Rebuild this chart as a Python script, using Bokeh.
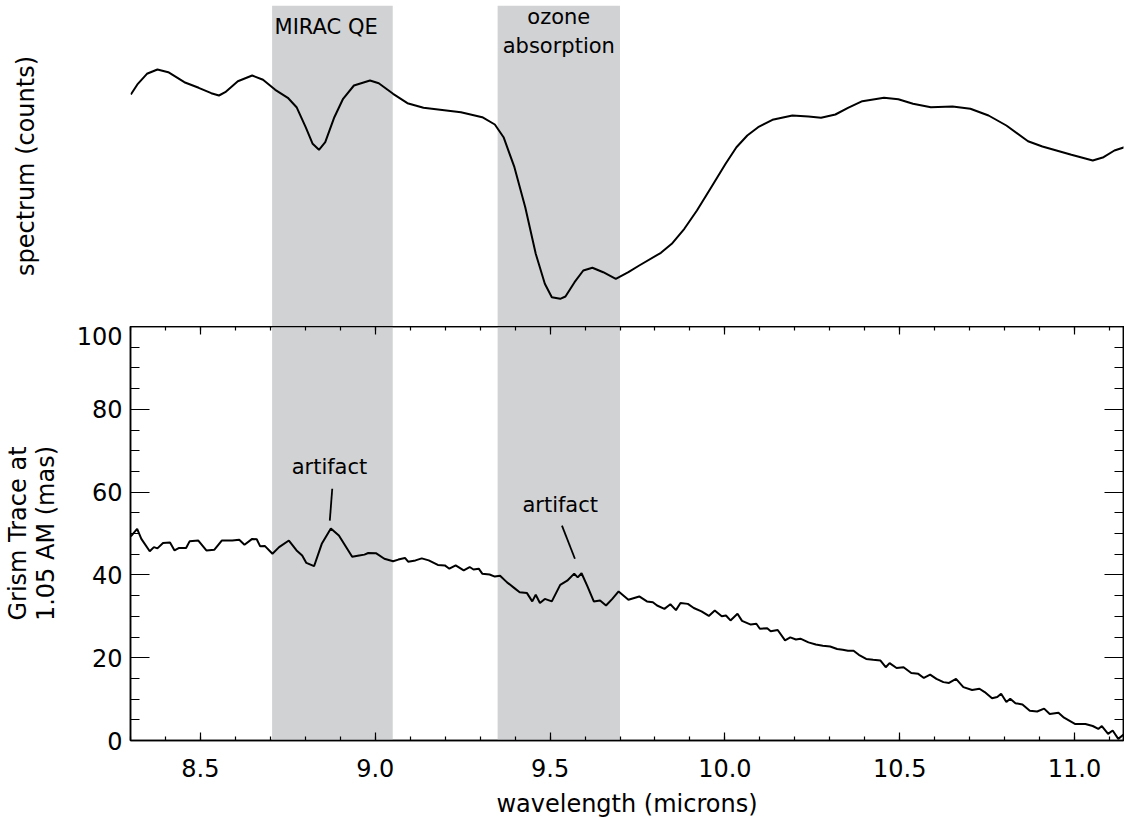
from bokeh.plotting import figure
from bokeh.layouts import column
from bokeh.models import (Range1d, BoxAnnotation, Label, LinearAxis, FixedTicker,
                          NumeralTickFormatter, CustomJSTickFormatter)
from bokeh.embed import file_html
from bokeh.resources import INLINE

# ---------------- data ----------------
spec_wl = [8.301, 8.321, 8.347, 8.377, 8.408, 8.454, 8.495, 8.531, 8.553, 8.571, 8.607, 8.648,
           8.679, 8.714, 8.750, 8.775, 8.801, 8.821, 8.839, 8.857, 8.883, 8.908, 8.939, 8.985,
           9.010, 9.051, 9.092, 9.138, 9.245, 9.306, 9.342, 9.367, 9.398, 9.429, 9.459, 9.485,
           9.505, 9.529, 9.544, 9.570, 9.595, 9.621, 9.652, 9.688, 9.724, 9.755, 9.817, 9.848,
           9.884, 9.920, 9.961, 10.002, 10.033, 10.064, 10.095, 10.136, 10.193, 10.239, 10.275,
           10.316, 10.352, 10.393, 10.455, 10.496, 10.538, 10.589, 10.651, 10.702, 10.754, 10.805,
           10.867, 10.908, 10.991, 11.052, 11.083, 11.114, 11.143]
spec_counts = [2320, 2427, 2527, 2570, 2543, 2443, 2387, 2333, 2310, 2343, 2453, 2510,
               2467, 2367, 2287, 2193, 1993, 1827, 1767, 1843, 2093, 2277, 2410, 2460,
               2433, 2327, 2233, 2187, 2143, 2093, 2020, 1893, 1593, 1193, 727, 427,
               293, 277, 300, 443, 560, 587, 543, 477, 543, 610, 737, 827,
               977, 1160, 1393, 1627, 1793, 1910, 1993, 2067, 2110, 2100, 2087,
               2120, 2187, 2253, 2287, 2273, 2227, 2193, 2200, 2177, 2110, 2010,
               1853, 1800, 1717, 1660, 1693, 1760, 1793]

trace_wl = [8.301, 8.319, 8.331, 8.355, 8.367, 8.377, 8.393, 8.413, 8.426, 8.439, 8.459, 8.469,
            8.494, 8.517, 8.540, 8.561, 8.591, 8.611, 8.626, 8.648, 8.661, 8.671, 8.684, 8.706,
            8.725, 8.753, 8.775, 8.791, 8.803, 8.825, 8.847, 8.873, 8.896, 8.934, 8.954, 8.969,
            8.980, 9.003, 9.026, 9.051, 9.066, 9.085, 9.094, 9.115, 9.133, 9.153, 9.179, 9.199,
            9.212, 9.230, 9.253, 9.270, 9.281, 9.296, 9.306, 9.327, 9.342, 9.357, 9.377, 9.398,
            9.413, 9.434, 9.449, 9.459, 9.471, 9.485, 9.505, 9.529, 9.549, 9.569, 9.579, 9.590,
            9.606, 9.625, 9.643, 9.660, 9.678, 9.696, 9.724, 9.755, 9.777, 9.794, 9.806, 9.827,
            9.844, 9.860, 9.873, 9.894, 9.911, 9.933, 9.954, 9.971, 9.991, 10.003, 10.016, 10.036,
            10.049, 10.074, 10.090, 10.100, 10.121, 10.131, 10.151, 10.172, 10.187, 10.203, 10.216,
            10.239, 10.260, 10.280, 10.301, 10.321, 10.337, 10.352, 10.368, 10.383, 10.404, 10.424,
            10.445, 10.460, 10.471, 10.491, 10.511, 10.533, 10.553, 10.569, 10.587, 10.605, 10.625,
            10.641, 10.661, 10.682, 10.707, 10.728, 10.743, 10.764, 10.779, 10.790, 10.805, 10.816,
            10.831, 10.851, 10.872, 10.893, 10.913, 10.929, 10.954, 10.970, 11.001, 11.031, 11.052,
            11.068, 11.078, 11.096, 11.109, 11.125, 11.143]
trace_mas = [49.3, 51.1, 48.7, 45.7, 46.7, 46.4, 47.7, 47.8, 45.9, 46.5, 46.5, 48.1,
             48.3, 45.9, 46.1, 48.3, 48.3, 48.5, 47.3, 48.7, 48.6, 46.9, 47.0, 45.1,
             46.7, 48.3, 45.9, 44.7, 42.9, 42.1, 47.5, 51.2, 49.5, 44.4, 44.7, 44.9,
             45.3, 45.2, 43.9, 43.3, 43.7, 44.1, 43.2, 43.5, 44.0, 43.5, 42.4, 42.3,
             41.5, 42.3, 41.1, 41.9, 41.3, 41.5, 40.3, 40.1, 39.6, 39.8, 38.2, 36.8,
             35.8, 35.6, 33.6, 35.2, 33.2, 34.2, 33.6, 37.6, 38.6, 40.3, 39.4, 40.4,
             37.4, 33.6, 33.8, 32.6, 34.2, 36.0, 34.0, 34.8, 33.6, 33.4, 32.6, 31.8,
             32.9, 31.5, 33.2, 33.0, 32.0, 31.2, 30.1, 31.4, 30.0, 30.2, 29.0, 30.6,
             28.9, 28.0, 28.2, 27.0, 27.1, 26.4, 26.7, 24.2, 24.9, 24.4, 24.6,
             23.7, 23.2, 22.9, 22.7, 22.1, 21.9, 21.7, 21.7, 20.7, 19.7, 19.5,
             19.3, 17.7, 18.7, 17.5, 17.7, 16.3, 16.1, 15.1, 15.9, 14.9, 14.1,
             13.9, 14.9, 12.9, 12.2, 12.5, 11.7, 10.2, 10.5, 11.3, 9.3, 10.1,
             9.0, 8.7, 7.2, 7.0, 7.7, 6.4, 6.7, 5.5, 4.0, 4.0, 3.5,
             2.8, 3.5, 1.6, 2.4, 0.4, 1.6]

band_left = [8.705, 9.35]
band_right = [9.05, 9.70]
band_names = ["MIRAC  QE", "ozone\nabsorption"]
band_label_x = [8.869, 9.525]
band_label_y = [3000, 2950]

artifact_text_x = [8.869, 9.529]
artifact_text_y = [66.0, 57.0]
artifact_line_x0 = [8.877, 9.534]
artifact_line_y0 = [60.8, 51.9]
artifact_line_x1 = [8.870, 9.571]
artifact_line_y1 = [53.1, 43.9]

x_major = [8.5, 9.0, 9.5, 10.0, 10.5, 11.0]
x_minor = [round(8.3 + 0.1 * i, 1) for i in range(29)]
y_major = [0, 20, 40, 60, 80, 100]
y_minor = [5 * i for i in range(21)]

FONT = "DejaVu Sans"
BAND_COLOR = "#d1d2d4"
X0, X1 = 8.3, 11.14

x_range = Range1d(X0, X1)

# ---------------- top panel ----------------
top = figure(frame_width=993, frame_height=321, x_range=x_range, y_range=Range1d(0, 3210),
             output_backend="svg", toolbar_location=None, x_axis_location=None,
             min_border_left=130, min_border_right=1, min_border_top=5, min_border_bottom=0,
             outline_line_color=None)
top.grid.visible = False
ya = top.yaxis[0]
ya.ticker = FixedTicker(ticks=[], minor_ticks=[])
ya.axis_line_color = None
ya.major_tick_line_color = None
ya.minor_tick_line_color = None
ya.major_tick_out = 0
ya.major_tick_in = 0
ya.minor_tick_out = 0
ya.minor_tick_in = 0
ya.major_label_standoff = 0
ya.axis_label = "spectrum (counts)"
ya.axis_label_text_font = FONT
ya.axis_label_text_font_size = "24px"
ya.axis_label_text_font_style = "normal"
ya.axis_label_text_color = "black"
ya.axis_label_text_line_height = 1.0
ya.axis_label_standoff = 91

for l, r in zip(band_left, band_right):
    top.add_layout(BoxAnnotation(left=l, right=r, fill_color=BAND_COLOR, fill_alpha=1.0,
                                 line_color=None, level="underlay"))
top.line(spec_wl, spec_counts, line_color="black", line_width=2)
for t, x, y in zip(band_names, band_label_x, band_label_y):
    top.add_layout(Label(x=x, y=y, text=t, text_align="center", text_baseline="middle",
                         text_font=FONT, text_font_size="21px", text_color="black",
                         text_line_height=1.2))

# ---------------- bottom panel ----------------
bot = figure(frame_width=993, frame_height=414, x_range=x_range, y_range=Range1d(0, 100),
             output_backend="svg", toolbar_location=None,
             min_border_left=130, min_border_right=1, min_border_top=0, min_border_bottom=0,
             outline_line_color="black", outline_line_width=1.5)
bot.grid.visible = False
bot.add_layout(LinearAxis(), "above")
bot.add_layout(LinearAxis(), "right")

for ax in bot.xaxis:
    ax.ticker = FixedTicker(ticks=x_major, minor_ticks=x_minor)
    ax.major_tick_in = 8
    ax.major_tick_out = 0
    ax.minor_tick_in = 4
    ax.minor_tick_out = 0
    ax.formatter = NumeralTickFormatter(format="0.0")
for ax in bot.yaxis:
    ax.ticker = FixedTicker(ticks=y_major, minor_ticks=y_minor)
    ax.major_tick_in = 19
    ax.major_tick_out = 0
    ax.minor_tick_in = 9
    ax.minor_tick_out = 0
for ax in bot.xaxis + bot.yaxis:
    ax.axis_line_width = 1.5
    ax.major_tick_line_width = 1.2
    ax.minor_tick_line_width = 1.2
    ax.major_label_text_font = FONT
    ax.major_label_text_font_size = "24px"
    ax.major_label_text_color = "black"
    ax.axis_label_text_font = FONT
    ax.axis_label_text_font_size = "24px"
    ax.axis_label_text_font_style = "normal"
    ax.axis_label_text_color = "black"

for ax in (bot.above[0], bot.right[0]):
    ax.formatter = CustomJSTickFormatter(code="return '';")
    ax.major_label_text_font_size = "1px"
    ax.major_label_standoff = 0

bot.below[0].major_label_standoff = 18
bot.below[0].axis_label = "wavelength (microns)"
bot.below[0].axis_label_standoff = 10
bot.left[0].major_label_standoff = 8
bot.left[0].axis_label = "Grism Trace at\n1.05 AM (mas)"
bot.left[0].axis_label_text_line_height = 1.0
bot.left[0].axis_label_standoff = 14

for l, r in zip(band_left, band_right):
    bot.add_layout(BoxAnnotation(left=l, right=r, fill_color=BAND_COLOR,
                                 fill_alpha=1.0, line_color=None, level="underlay"))
bot.line(trace_wl, trace_mas, line_color="black", line_width=2)
bot.segment(artifact_line_x0, artifact_line_y0, artifact_line_x1, artifact_line_y1,
            line_color="black", line_width=1.8)
for x, y in zip(artifact_text_x, artifact_text_y):
    bot.add_layout(Label(x=x, y=y, text="artifact", text_align="center", text_baseline="middle",
                         text_font=FONT, text_font_size="21px", text_color="black"))

layout = column(top, bot, spacing=0)
open("out.html", "w").write(file_html(layout, INLINE))
